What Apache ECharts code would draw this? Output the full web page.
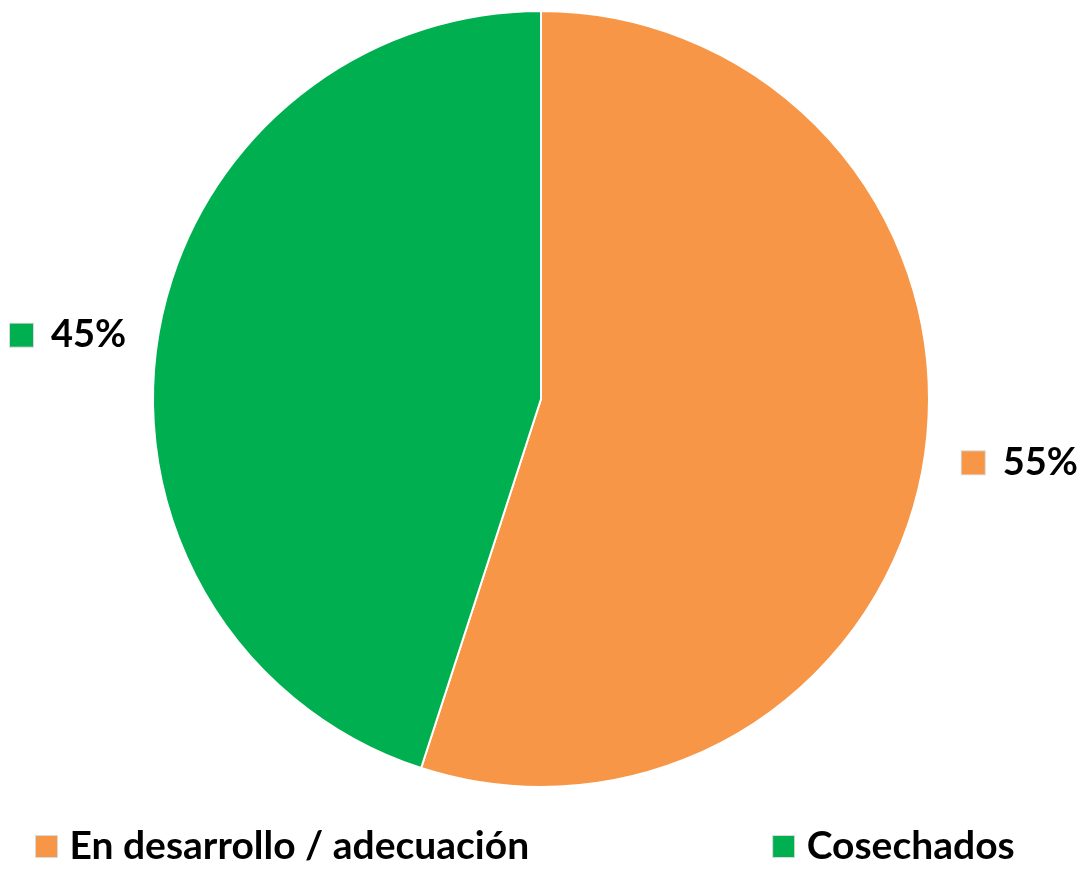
<!DOCTYPE html>
<html><head><meta charset="utf-8">
<script src="https://cdn.jsdelivr.net/npm/echarts@6/dist/echarts.min.js"></script>
<style>html,body{margin:0;padding:0;background:#fff}#c{width:1088px;height:870px}</style>
</head><body><div id="c"></div>
<script>
const categories = ['En desarrollo / adecuación', 'Cosechados'];
const values = [55, 45];
const colors = ['#F79646', '#00B050'];

const chart = echarts.init(document.getElementById('c'));
const FONT = 'Lato';
chart.setOption({
  animation: false,
  color: colors,
  legend: {
    data: categories,
    top: 822,
    left: 30,
    itemGap: 243,
    itemWidth: 22,
    itemHeight: 22,
    icon: 'rect',
    itemStyle: { borderColor: '#d9d9d9', borderWidth: 1 },
    textStyle: { fontFamily: FONT, fontWeight: 'bold', fontSize: 39, color: '#000', padding: [0, 0, 0, 7] }
  },
  series: [{
    type: 'pie',
    center: [541, 399],
    radius: [0, 388],
    startAngle: 90,
    clockwise: true,
    data: categories.map((n, i) => ({ name: n, value: values[i] })),
    itemStyle: { borderColor: '#fff', borderWidth: 2 },
    labelLine: { show: false, length: 20, length2: 10 },
    label: {
      show: true,
      position: 'outside',
      alignTo: 'edge',
      edgeDistance: 10,
      overflow: 'none',
      formatter: p => '{sq|}{gap|}{v|' + p.value + '%}',
      rich: {
        sq: { width: 23, height: 23, backgroundColor: 'inherit', borderColor: '#d9d9d9', borderWidth: 1 },
        gap: { width: 18 },
        v: { fontFamily: FONT, fontWeight: 'bold', fontSize: 38, color: '#000' }
      }
    }
  }]
});
</script></body></html>
